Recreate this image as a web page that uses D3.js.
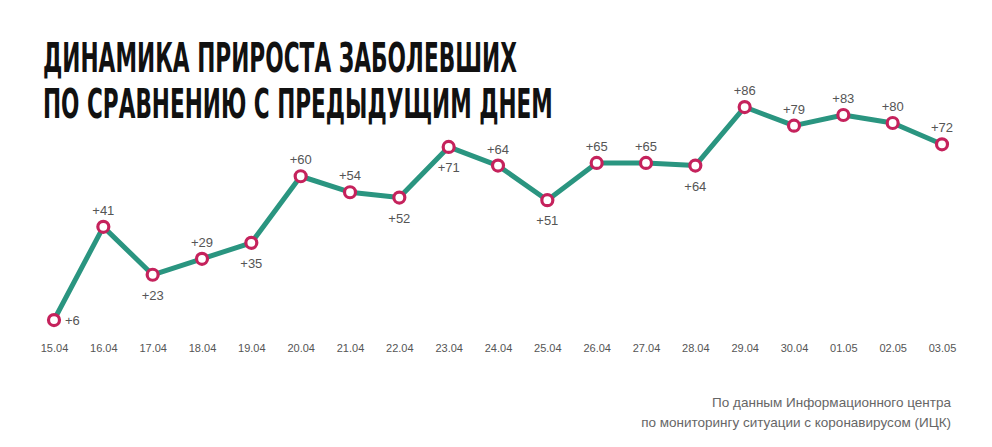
<!DOCTYPE html>
<html><head><meta charset="utf-8">
<script src="https://cdn.jsdelivr.net/npm/d3@7"></script>
<style>body{margin:0;background:#fff}svg{display:block}</style>
</head><body>
<script>
const dates = ["15.04","16.04","17.04","18.04","19.04","20.04","21.04","22.04","23.04","24.04","25.04","26.04","27.04","28.04","29.04","30.04","01.05","02.05","03.05"];
const values = [6,41,23,29,35,60,54,52,71,64,51,65,65,64,86,79,83,80,72];
const labelPos = ["right","above","below","above","below","above","above","below","below","above","below","above","above","below","above","above","above","above","above"];
const titleLines = ["ДИНАМИКА ПРИРОСТА ЗАБОЛЕВШИХ","ПО СРАВНЕНИЮ С ПРЕДЫДУЩИМ ДНЕМ"];
const sourceLines = ["По данным Информационного центра","по мониторингу ситуации с коронавирусом (ИЦК)"];

const W=992,H=447;
const svg=d3.select("body").append("svg").attr("width",W).attr("height",H);

const tl=[[72,474],[118,510]];
titleLines.forEach((t,i)=>{
  const g=svg.append("g");
  const tx=g.append("text").attr("x",0).attr("y",0).text(t)
   .attr("font-family","'Liberation Sans Narrow','DejaVu Sans Condensed','Roboto Condensed',sans-serif")
   .attr("font-weight","bold").attr("font-size",41).attr("fill","#111");
  const w=tx.node().getComputedTextLength();
  g.attr("transform",`translate(43,${tl[i][0]}) scale(${tl[i][1]/w},1)`);
});

const x=d3.scalePoint().domain(dates).range([54,942]);
const y=d3.scaleLinear().domain([0,100]).range([336,69.75]);

const xAxis=d3.axisBottom(x).tickSize(0).tickPadding(0);
const ax=svg.append("g").attr("transform","translate(0,352)").call(xAxis);
ax.select(".domain").remove();
ax.selectAll("text").attr("font-family","'Helvetica','Liberation Sans',Arial,sans-serif").attr("font-size",11).attr("fill","#555").attr("dy","0");

const data=dates.map((d,i)=>({d,v:values[i],p:labelPos[i]}));
const line=d3.line().x(d=>x(d.d)).y(d=>y(d.v));
svg.append("path").datum(data).attr("d",line).attr("fill","none").attr("stroke","#2a9580").attr("stroke-width",5).attr("stroke-linejoin","round");

svg.selectAll("circle.pt").data(data).join("circle").attr("class","pt")
 .attr("cx",d=>x(d.d)).attr("cy",d=>y(d.v)).attr("r",5.5)
 .attr("fill","#fff").attr("stroke","#c5225c").attr("stroke-width",3.2);

svg.selectAll("text.lbl").data(data).join("text").attr("class","lbl")
 .attr("x",d=>d.p==="right"?x(d.d)+11:x(d.d))
 .attr("y",d=>d.p==="above"?y(d.v)-12:d.p==="below"?y(d.v)+25:y(d.v)+5)
 .attr("text-anchor",d=>d.p==="right"?"start":"middle")
 .attr("font-family","'Helvetica','Liberation Sans',Arial,sans-serif").attr("font-size",13).attr("fill","#555")
 .text(d=>"+"+d.v);

sourceLines.forEach((t,i)=>{
  svg.append("text").attr("x",951).attr("y",407+i*20).attr("text-anchor","end")
   .attr("font-family","'Helvetica','Liberation Sans',Arial,sans-serif").attr("font-size",13.5).attr("fill","#666").text(t);
});
</script>
</body></html>
